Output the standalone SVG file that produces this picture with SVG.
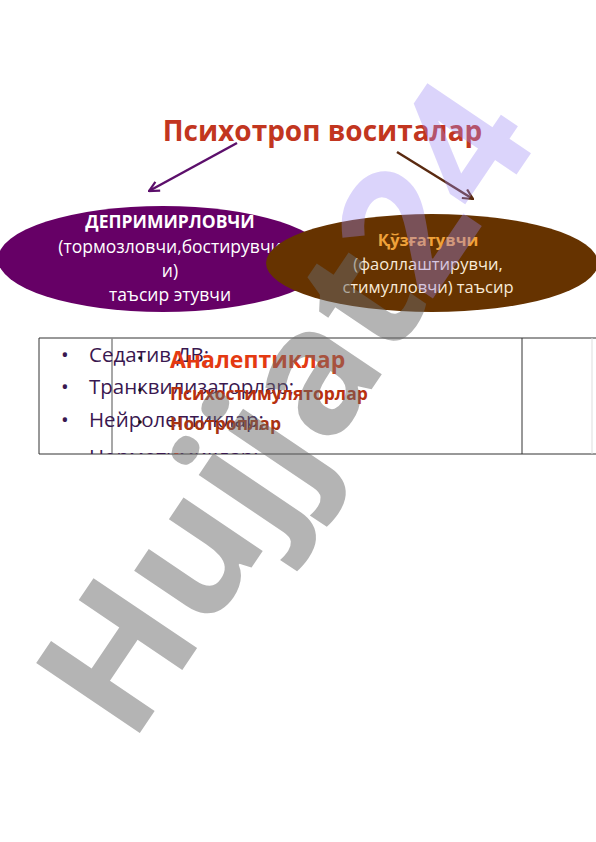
<svg xmlns="http://www.w3.org/2000/svg" width="596" height="842" viewBox="0 0 596 842">
<style>
  .t { font-family: "Open Sans", "Liberation Sans", sans-serif; }
  .b { font-weight: bold; }
  .wt { fill: #ffffff; font-size: 17.5px; text-anchor: middle; }
  .ct { fill: #f8ead8; font-size: 16.5px; text-anchor: middle; }
  .li { fill: #3a1850; font-size: 20.5px; }
  .ri { font-weight: bold; }
  .line { stroke: #333; stroke-width: 1; fill: none; }
</style>
<defs>
  <marker id="ahP" viewBox="0 0 12 12" refX="11" refY="6" markerWidth="12" markerHeight="12" markerUnits="userSpaceOnUse" orient="auto">
    <path d="M1,1 L11,6 L1,11" fill="none" stroke="#5c0f6b" stroke-width="2.2"/>
  </marker>
  <marker id="ahB" viewBox="0 0 12 12" refX="11" refY="6" markerWidth="12" markerHeight="12" markerUnits="userSpaceOnUse" orient="auto">
    <path d="M1,1 L11,6 L1,11" fill="none" stroke="#5a2a10" stroke-width="2.2"/>
  </marker>
  <clipPath id="tblClip"><rect x="39" y="338" width="557" height="116"/></clipPath>
</defs>
<rect width="596" height="842" fill="#ffffff"/>

<g id="title">
  <text class="t b" x="322.5" y="141" font-size="28" fill="#c2361f" text-anchor="middle">Психотроп воситалар</text>
</g>

<g id="connectors">
  <line x1="237" y1="143" x2="149" y2="191" stroke="#5c0f6b" stroke-width="2.5" marker-end="url(#ahP)"/>
  <line x1="397" y1="152" x2="473" y2="199" stroke="#5a2a10" stroke-width="2.5" marker-end="url(#ahB)"/>
</g>

<g id="depressant">
  <ellipse cx="163" cy="259" rx="165" ry="53" fill="#660066"/>
  <text class="t b wt" x="170" y="228">ДЕПРИМИРЛОВЧИ</text>
  <text class="t wt" x="170" y="253">(тормозловчи,бостирувчи</text>
  <text class="t wt" x="170" y="277">и)</text>
  <text class="t wt" x="170" y="301">таъсир этувчи</text>
</g>

<g id="stimulant">
  <ellipse cx="432" cy="263" rx="166" ry="49" fill="#663300"/>
  <text class="t b ct" x="428" y="246" style="fill:#f0a23a">Қўзғатувчи</text>
  <text class="t ct" x="428" y="270">(фаоллаштирувчи,</text>
  <text class="t ct" x="428" y="293">стимулловчи) таъсир</text>
</g>

<g id="table">
  <line class="line" x1="39" y1="338" x2="596" y2="338"/>
  <line class="line" x1="39" y1="454" x2="596" y2="454"/>
  <line class="line" x1="39" y1="338" x2="39" y2="454"/>
  <line x1="112" y1="338" x2="112" y2="454" stroke="#8a8a8a" stroke-width="1.5"/>
  <line class="line" x1="522" y1="338" x2="522" y2="454"/>
  <line x1="592" y1="338" x2="592" y2="454" stroke="#dddddd" stroke-width="1"/>
</g>

<g id="list-left" clip-path="url(#tblClip)">
  <text class="t li" x="61" y="362">•</text>
  <text class="t li" x="61" y="394">•</text>
  <text class="t li" x="61" y="427">•</text>
  <text class="t li" x="89" y="362">Седатив ДВ;</text>
  <text class="t li" x="89" y="394">Транквилизаторлар;</text>
  <text class="t li" x="89" y="427">Нейролептиклар;</text>
  <text class="t li" x="89" y="464">Нормотимиклар;</text>
</g>

<g id="list-right" clip-path="url(#tblClip)">
  <circle cx="140" cy="358" r="1.8" fill="#111"/>
  <circle cx="140" cy="390" r="1.8" fill="#111"/>
  <circle cx="140" cy="422" r="1.8" fill="#111"/>
  <text class="t ri" x="170" y="368" font-size="23" fill="#e43a12">Аналептиклар</text>
  <text class="t ri" x="170" y="400" font-size="17.5" fill="#b8300f">Психостимуляторлар</text>
  <text class="t ri" x="170" y="430" font-size="17.5" fill="#a83412">Ноотроплар</text>
  <text class="t ri" x="170" y="467" font-size="19" fill="#d8381a">Адаптогенлар</text>
</g>

<g id="watermark" class="t b" font-size="175">
  <text transform="translate(131,746) rotate(-56)"><tspan fill="#6a6a6a" fill-opacity="0.5">Hujjat</tspan><tspan fill="#9b87f5" fill-opacity="0.36" dx="-50"> 24</tspan></text>
</g>
</svg>
